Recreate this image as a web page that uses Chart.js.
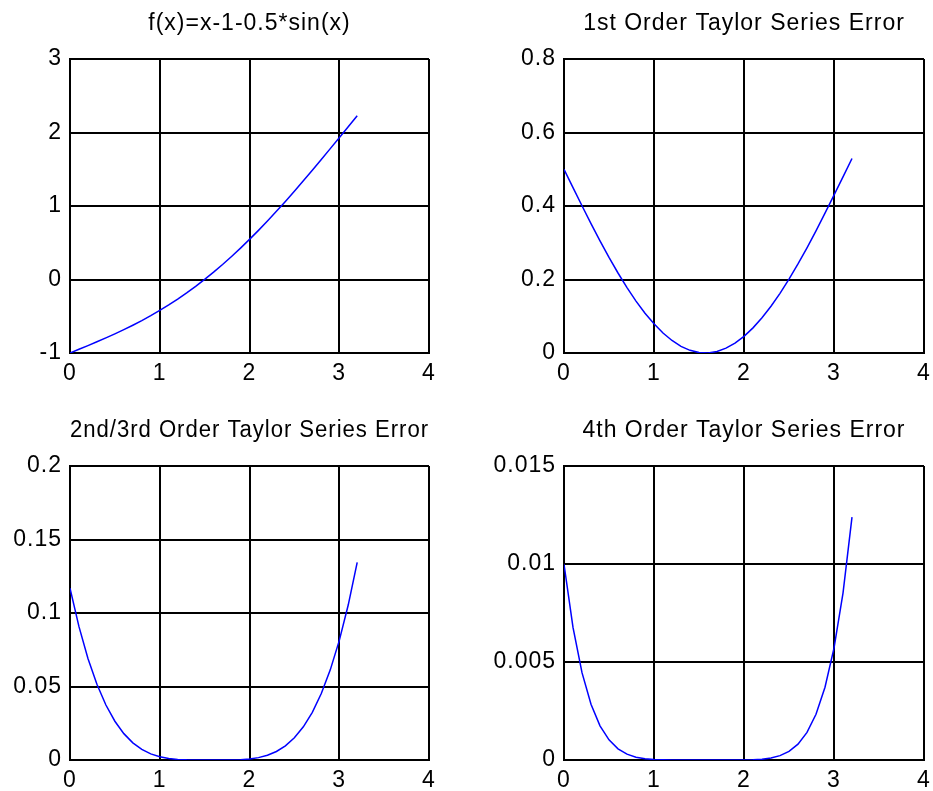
<!DOCTYPE html>
<html lang="en">
<head>
    <meta charset="UTF-8">
    <title>Taylor Series Error</title>
    <script src="https://cdn.jsdelivr.net/npm/chart.js@4.4.0/dist/chart.umd.min.js"></script>
    <style>
        html, body {
            margin: 0;
            padding: 0;
            background: #fff;
        }
        .panel {
            position: absolute;
        }
    </style>
</head>
<body>
    <canvas id="plot1" class="panel" width="466" height="395" style="left:0;top:0"></canvas>
    <canvas id="plot2" class="panel" width="467" height="395" style="left:466px;top:0"></canvas>
    <canvas id="plot3" class="panel" width="466" height="396" style="left:0;top:395px"></canvas>
    <canvas id="plot4" class="panel" width="467" height="396" style="left:466px;top:395px"></canvas>

    <script>
        // sample points, 0 .. 3.2
        const xValues = [0, 0.1, 0.2, 0.3, 0.4, 0.5, 0.6, 0.7, 0.8, 0.9, 1.0, 1.1, 1.2, 1.3, 1.4, 1.5, 1.6,
            1.7, 1.8, 1.9, 2.0, 2.1, 2.2, 2.3, 2.4, 2.5, 2.6, 2.7, 2.8, 2.9, 3.0, 3.1, 3.2];

        const fValues = [-1, -0.9499, -0.8993, -0.8478, -0.7947, -0.7397, -0.6823, -0.6221, -0.5587, -0.4917,
            -0.4207, -0.3456, -0.2660, -0.1818, -0.0927, 0.0013, 0.1002, 0.2042, 0.3131, 0.4269, 0.5454,
            0.6684, 0.7958, 0.9271, 1.0623, 1.2008, 1.3422, 1.4863, 1.6325, 1.7804, 1.9294, 2.0792, 2.2292];

        const err1 = [0.5, 0.4501, 0.4007, 0.3522, 0.3053, 0.2603, 0.2177, 0.1779, 0.1413, 0.1083,
            0.0793, 0.0544, 0.0340, 0.0182, 0.0073, 0.0013, 0.0002, 0.0042, 0.0131, 0.0269, 0.0454,
            0.0684, 0.0958, 0.1271, 0.1623, 0.2008, 0.2423, 0.2863, 0.3325, 0.3804, 0.4294, 0.4792, 0.5292];

        const err23 = [0.11685, 0.09073, 0.06911, 0.05149, 0.0374, 0.02637, 0.01793, 0.01168, 0.00721, 0.00416,
            0.00219, 0.00102, 0.00039, 0.00011, 0.00002, 0, 0, 0.00001, 0.00006, 0.00025, 0.0007,
            0.00162, 0.00322, 0.00579, 0.00963, 0.01509, 0.02257, 0.03247, 0.04523, 0.06132, 0.08122, 0.10541, 0.13439];

        const err4 = [0.009985, 0.006765, 0.004456, 0.002842, 0.001746, 0.001026, 0.000572, 0.000299, 0.000144, 0.000063,
            0.000024, 0.000008, 0.000002, 0, 0, 0, 0, 0, 0, 0.000001, 0.000004,
            0.000015, 0.000043, 0.000103, 0.000223, 0.00044, 0.00081, 0.001407, 0.002332, 0.003712, 0.005707, 0.008519, 0.012389];

        const titles = ['f(x)=x-1-0.5*sin(x)', '1st Order Taylor Series Error',
            '2nd/3rd Order Taylor Series Error', '4th Order Taylor Series Error'];

        const xTicks = [0, 1, 2, 3, 4];
        const xLabels = ['0', '1', '2', '3', '4'];
        const yTicks1 = [-1, 0, 1, 2, 3];
        const yLabels1 = ['-1', '0', '1', '2', '3'];
        const yTicks2 = [0, 0.2, 0.4, 0.6, 0.8];
        const yLabels2 = ['0', '0.2', '0.4', '0.6', '0.8'];
        const yTicks3 = [0, 0.05, 0.1, 0.15, 0.2];
        const yLabels3 = ['0', '0.05', '0.1', '0.15', '0.2'];
        const yTicks4 = [0, 0.005, 0.01, 0.015];
        const yLabels4 = ['0', '0.005', '0.01', '0.015'];

        const FONT = '"Liberation Sans", Arial, sans-serif';

        // MATLAB-ish spaced text
        const spacing = {
            id: 'spacing',
            beforeUpdate(chart) { chart.ctx.letterSpacing = '1px'; },
            beforeDraw(chart) { chart.ctx.letterSpacing = '1px'; }
        };

        function makePlot(id, values, title, yTicks, yLabels, opts) {
            const points = xValues.map((x, i) => ({ x: x, y: values[i] }));
            return new Chart(document.getElementById(id), {
                type: 'line',
                data: {
                    datasets: [{
                        data: points,
                        borderColor: '#0000ff',
                        borderWidth: 1.5,
                        pointRadius: 0,
                        tension: 0,
                        fill: false
                    }]
                },
                options: {
                    responsive: false,
                    animation: false,
                    events: [],
                    layout: { padding: { left: 0, top: 0, bottom: 0, right: opts.padRight } },
                    plugins: {
                        legend: { display: false },
                        tooltip: { enabled: false },
                        title: {
                            display: true,
                            text: title,
                            fullSize: false,
                            color: '#000',
                            font: { family: FONT, size: 23, weight: 'normal', lineHeight: 1 },
                            padding: { top: opts.titleTop, bottom: 24 }
                        }
                    },
                    scales: {
                        x: {
                            type: 'linear',
                            min: xTicks[0],
                            max: xTicks[xTicks.length - 1],
                            afterBuildTicks: s => { s.ticks = xTicks.map(v => ({ value: v })); },
                            afterFit: s => {
                                s.height = opts.xHeight;
                                s.paddingLeft = 0;
                                s.paddingRight = 0;
                            },
                            ticks: {
                                color: '#000',
                                padding: 7,
                                maxRotation: 0,
                                font: { family: FONT, size: 23 },
                                callback: (v, i) => xLabels[i]
                            },
                            grid: { color: '#000', lineWidth: 2, drawTicks: false },
                            border: { color: '#000', width: 2 }
                        },
                        y: {
                            type: 'linear',
                            min: yTicks[0],
                            max: yTicks[yTicks.length - 1],
                            afterBuildTicks: s => { s.ticks = yTicks.map(v => ({ value: v })); },
                            afterFit: s => {
                                s.width = opts.yWidth;
                                s.paddingTop = 0;
                                s.paddingBottom = 0;
                            },
                            ticks: {
                                color: '#000',
                                padding: 8,
                                font: { family: FONT, size: 23 },
                                callback: (v, i) => yLabels[i]
                            },
                            grid: { color: '#000', lineWidth: 2, drawTicks: false },
                            border: { color: '#000', width: 2 }
                        }
                    }
                },
                plugins: [spacing]
            });
        }

        makePlot('plot1', fValues, titles[0], yTicks1, yLabels1,
            { yWidth: 70, xHeight: 42, padRight: 37, titleTop: 12 });
        makePlot('plot2', err1, titles[1], yTicks2, yLabels2,
            { yWidth: 98, xHeight: 42, padRight: 9, titleTop: 12 });
        makePlot('plot3', err23, titles[2], yTicks3, yLabels3,
            { yWidth: 70, xHeight: 31, padRight: 37, titleTop: 24 });
        makePlot('plot4', err4, titles[3], yTicks4, yLabels4,
            { yWidth: 98, xHeight: 31, padRight: 9, titleTop: 24 });
    </script>
</body>
</html>
